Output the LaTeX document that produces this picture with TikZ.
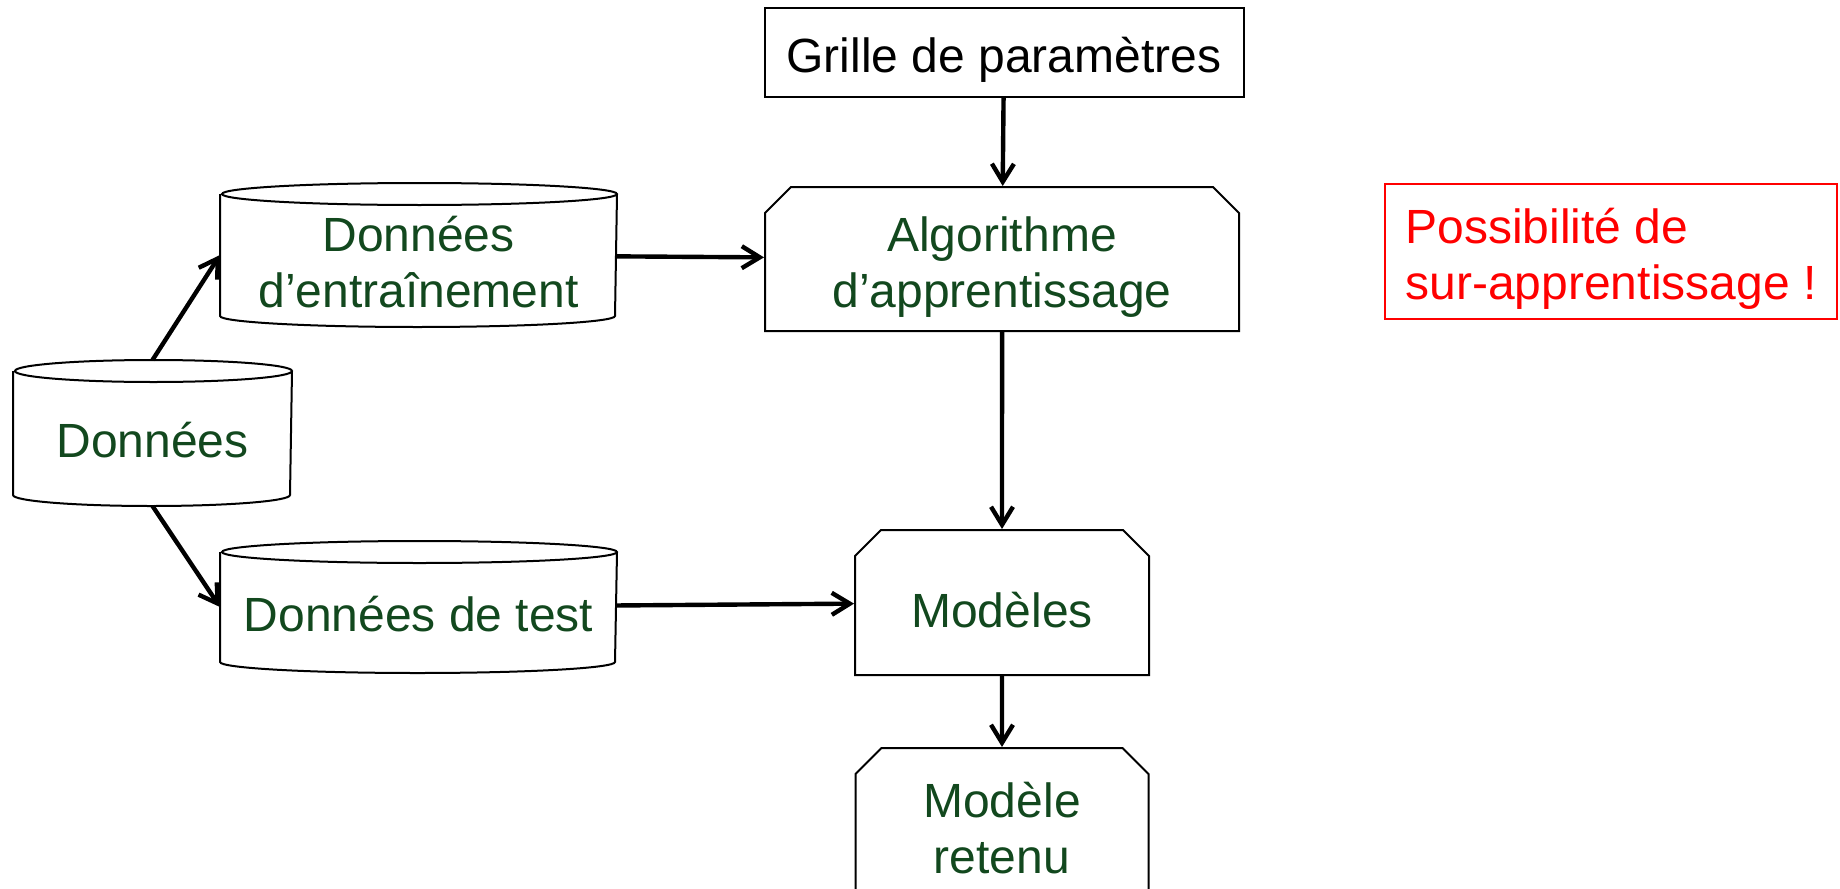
\documentclass[tikz,border=0pt]{standalone}
\usepackage{fontspec}
\setmainfont{Liberation Sans}
\usetikzlibrary{shapes.misc,arrows.meta,positioning}
\definecolor{dgreen}{RGB}{18,72,30}
\definecolor{warnred}{RGB}{255,0,0}
% outline of a data store round a node
\newcommand\dbcyl[2]{%
  \draw[line width=1pt] ([yshift=-5.5pt]#1.north west) -- ([yshift=5.5pt]#1.south west)
    arc[start angle=180, end angle=360, x radius=#2, y radius=5.5pt]
    -- ([yshift=-5.5pt]#1.north east)
    arc[start angle=0, end angle=360, x radius=#2, y radius=5.5pt];}
\newcommand\hstrut{\rule{0pt}{25pt}}

\begin{document}
\begin{tikzpicture}[x=0.5pt,y=-0.5pt,
   every node/.style={font=\fontsize{24}{28}\selectfont, align=center, text=dgreen, line width=1pt, inner sep=3pt},
   base/.style={rectangle, minimum width=197.5pt, minimum height=71pt},
   algobox/.style={draw, chamfered rectangle, chamfered rectangle corners={north west,north east},
     chamfered rectangle xsep=6.5pt, chamfered rectangle ysep=6.5pt},
   conn/.style={->, line width=2.2pt},
   >={Straight Barb[length=9pt,width=11pt]}]
   \useasboundingbox (0,0) rectangle (1840,888);
   \clip (0,0) rectangle (1840,888);

   \node (D) [base, minimum width=138.5pt, minimum height=72pt] at (152.5,433) {\hstrut Donn\'ees};
   \node (Dtrain) [base] at (418.5,255) {\hstrut Donn\'ees\\d'entra\^inement};
   \node (Dtest) [base, minimum height=65pt] at (418.5,607) {\hstrut Donn\'ees de test};
   \dbcyl{D}{69.25pt}
   \dbcyl{Dtrain}{98.75pt}
   \dbcyl{Dtest}{98.75pt}
   \node (G) [draw, text=black, minimum width=239.5pt, minimum height=44.5pt] at (1004,52.5) {\hstrut Grille de param\`etres};
   \node (A) [algobox, inner ysep=0pt, minimum width=237pt, minimum height=72pt] at (1002,259) {\hstrut Algorithme\\d'apprentissage};
   \node (Ms) [algobox, minimum width=147pt, minimum height=72.5pt] at (1002,602.5) {\hstrut Mod\`eles};
   \node (M) [algobox, minimum width=146.5pt, minimum height=72.5pt, below of=Ms, node distance=109pt] {\hstrut Mod\`ele\\retenu};
   \node (W) [draw=warnred, text=warnred, align=left, minimum width=226pt,
     minimum height=67.5pt] at (1611,251.5) {\hstrut Possibilit\'e de\\sur-apprentissage !};

   \draw[conn] (D.north) to (Dtrain.west);
   \draw[conn] (D.south) to (Dtest.west);
   \draw[conn] (Dtrain) to (A);
   \draw[conn] (Dtest) to (Ms);
   \draw[conn] (G) to (A);
   \draw[conn] (A) to (Ms);
   \draw[conn] (Ms) to (M);
\end{tikzpicture}
\end{document}
